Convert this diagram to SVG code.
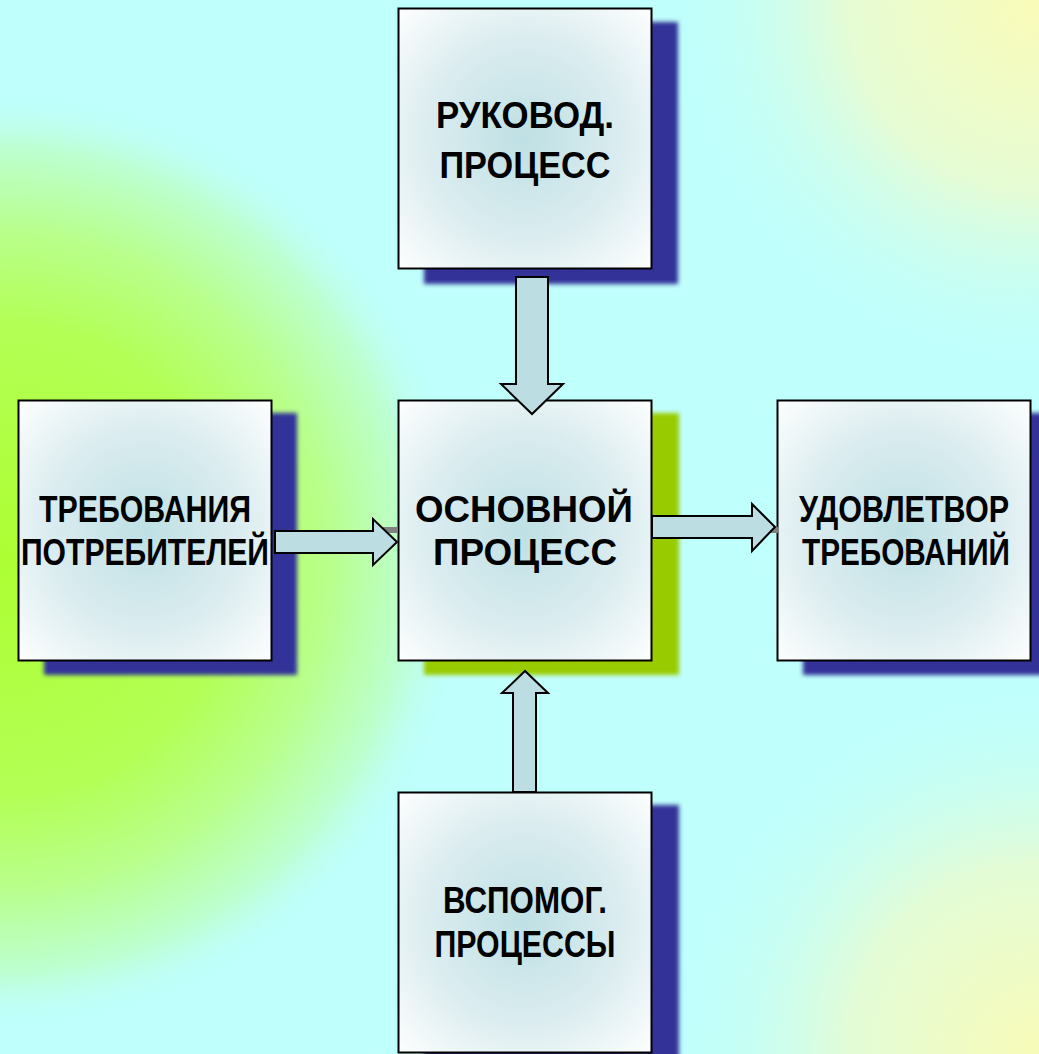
<svg xmlns="http://www.w3.org/2000/svg" width="1039" height="1054" viewBox="0 0 1039 1054">
  <defs>
    <radialGradient id="bgGreen" cx="0" cy="560" r="470" gradientUnits="userSpaceOnUse">
      <stop offset="0" stop-color="#ADFF33"/>
      <stop offset="0.5" stop-color="#B3FF55"/>
      <stop offset="0.7" stop-color="#B8FF8C"/>
      <stop offset="0.88" stop-color="#BDFFD2"/>
      <stop offset="1" stop-color="#BFFFFC" stop-opacity="0"/>
    </radialGradient>
    <radialGradient id="bgYellowTR" cx="1039" cy="0" r="380" gradientUnits="userSpaceOnUse">
      <stop offset="0" stop-color="#FAFBB8"/>
      <stop offset="0.5" stop-color="#E6FCD4"/>
      <stop offset="1" stop-color="#BFFFFC" stop-opacity="0"/>
    </radialGradient>
    <radialGradient id="bgYellowBR" cx="1039" cy="1054" r="380" gradientUnits="userSpaceOnUse">
      <stop offset="0" stop-color="#F8FBB8"/>
      <stop offset="0.5" stop-color="#E3FCD6"/>
      <stop offset="1" stop-color="#BFFFFC" stop-opacity="0"/>
    </radialGradient>
    <radialGradient id="boxFill" cx="0.5" cy="0.5" r="0.72">
      <stop offset="0" stop-color="#BEE0E4"/>
      <stop offset="0.55" stop-color="#DCEDF0"/>
      <stop offset="1" stop-color="#FFFFFF"/>
    </radialGradient>
    <filter id="soft" x="-10%" y="-10%" width="120%" height="120%">
      <feGaussianBlur stdDeviation="2"/>
    </filter>
  </defs>
  <style>
    .box { fill: url(#boxFill); stroke: #000; stroke-width: 2; }
    .shadowBlue { fill: #333399; filter: url(#soft); }
    .shadowGreen { fill: #99CC00; filter: url(#soft); }
    .lbl { font-family: "Liberation Sans", Arial, sans-serif; font-weight: bold; font-size: 37px; fill: #000; text-anchor: middle; }
    .arrow { fill: #BCDEE2; stroke: #000; stroke-width: 2; stroke-linejoin: miter; }
    .ashadow { fill: #808080; }
  </style>

  <!-- background -->
  <rect x="0" y="0" width="1039" height="1054" fill="#BFFFFC"/>
  <rect x="0" y="0" width="1039" height="1054" fill="url(#bgGreen)"/>
  <rect x="0" y="0" width="1039" height="1054" fill="url(#bgYellowTR)"/>
  <rect x="0" y="0" width="1039" height="1054" fill="url(#bgYellowBR)"/>

  <!-- shadows -->
  <rect class="shadowBlue" x="424" y="22" width="254" height="262"/>
  <rect class="shadowBlue" x="44" y="413" width="253" height="262"/>
  <rect class="shadowGreen" x="424" y="413" width="255" height="262"/>
  <rect class="shadowBlue" x="803" y="413" width="254" height="262"/>
  <rect class="shadowBlue" x="424" y="805" width="255" height="262"/>

  <g id="node-top">
    <rect class="box" x="398.5" y="8.5" width="253" height="260"/>
    <text class="lbl" x="525" y="128" textLength="178" lengthAdjust="spacingAndGlyphs">РУКОВОД.</text>
    <text class="lbl" x="525" y="178" textLength="171" lengthAdjust="spacingAndGlyphs">ПРОЦЕСС</text>
  </g>

  <g id="node-left">
    <rect class="box" x="18.5" y="400.5" width="253" height="260"/>
    <text class="lbl" x="145" y="522" font-size="36" textLength="212" lengthAdjust="spacingAndGlyphs">ТРЕБОВАНИЯ</text>
    <text class="lbl" x="145" y="565" font-size="36" textLength="248" lengthAdjust="spacingAndGlyphs">ПОТРЕБИТЕЛЕЙ</text>
  </g>

  <g id="node-center">
    <rect class="box" x="398.5" y="400.5" width="253" height="260"/>
    <text class="lbl" x="524" y="522" textLength="218" lengthAdjust="spacingAndGlyphs">ОСНОВНОЙ</text>
    <text class="lbl" x="525" y="565" textLength="184" lengthAdjust="spacingAndGlyphs">ПРОЦЕСС</text>
  </g>

  <g id="node-right">
    <rect class="box" x="777.5" y="400.5" width="253" height="260"/>
    <text class="lbl" x="904" y="522" font-size="36" textLength="210" lengthAdjust="spacingAndGlyphs">УДОВЛЕТВОР</text>
    <text class="lbl" x="906" y="565" font-size="36" textLength="208" lengthAdjust="spacingAndGlyphs">ТРЕБОВАНИЙ</text>
  </g>

  <g id="node-bottom">
    <rect class="box" x="398.5" y="792.5" width="253" height="260"/>
    <text class="lbl" x="525" y="913" font-size="36" textLength="164" lengthAdjust="spacingAndGlyphs">ВСПОМОГ.</text>
    <text class="lbl" x="525" y="957" font-size="36" textLength="181" lengthAdjust="spacingAndGlyphs">ПРОЦЕССЫ</text>
  </g>

  <!-- connectors -->
  <g id="connectors">
    <rect class="ashadow" x="372" y="527" width="26" height="5"/>
    <rect class="ashadow" x="770" y="527" width="9" height="6"/>
    <rect class="ashadow" x="382" y="529" width="16" height="4"/>
    <polygon class="arrow" points="516,277 548,277 548,384 563,384 532,414 501,384 516,384"/>
    <polygon class="arrow" points="275,531 373,531 373,519 397,542 373,565 373,553 275,553"/>
    <polygon class="arrow" points="652,516 752,516 752,504 775,527 752,551 752,538 652,538"/>
    <polygon class="arrow" points="513,792 513,693 502,693 525,671 548,693 536,693 536,792"/>
  </g>
</svg>
